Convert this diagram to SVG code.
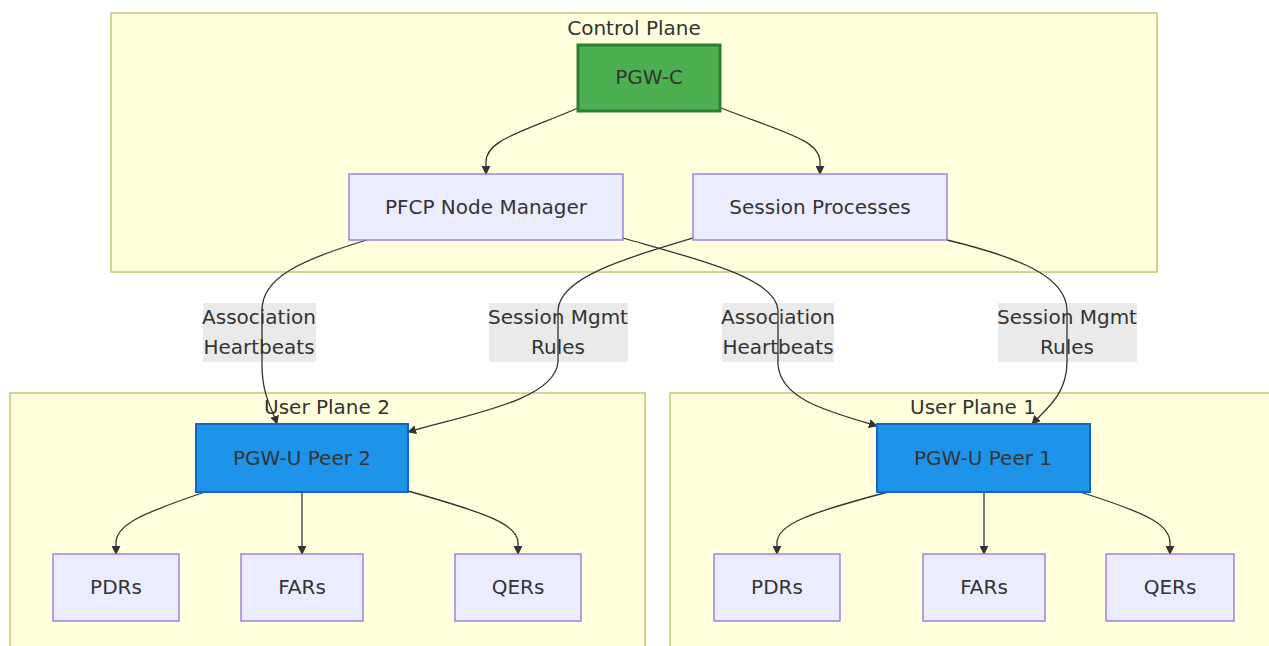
<svg xmlns="http://www.w3.org/2000/svg" width="1269" height="646" viewBox="0 0 1269 646">
<style>
text{font-family:"DejaVu Sans",Verdana,sans-serif;font-size:20px;fill:#333;text-anchor:middle}
.cluster{fill:#ffffde;stroke:#aaaa33;stroke-width:1}
.node{fill:#ececff;stroke:#9370db;stroke-width:1.3}
.green{fill:#4caf50;stroke:#2e7d32;stroke-width:3}
.blue{fill:#1e93ea;stroke:#1565c0;stroke-width:2}
.edge{fill:none;stroke:#333;stroke-width:1.3}
.lbl{fill:#e8e8e8;opacity:0.9}
</style>
<defs>
<marker id="arr" viewBox="0 0 10 10" refX="9" refY="5" markerWidth="9" markerHeight="9" markerUnits="userSpaceOnUse" orient="auto">
<path d="M0,0 L10,5 L0,10 z" fill="#333"/>
</marker>
</defs>
<rect width="1269" height="646" fill="#ffffff"/>
<g id="cluster-control">
<rect class="cluster" x="111" y="13" width="1046" height="259"/>
<text x="634" y="35">Control Plane</text>
</g>
<g id="cluster-up2">
<rect class="cluster" x="10" y="393" width="635" height="270"/>
<text x="327" y="414">User Plane 2</text>
</g>
<g id="cluster-up1">
<rect class="cluster" x="670" y="393" width="620" height="270"/>
<text x="973" y="414">User Plane 1</text>
</g>
<g id="edge-labels">
<rect class="lbl" x="203" y="303" width="113" height="59"/>
<rect class="lbl" x="489" y="303" width="139" height="59"/>
<rect class="lbl" x="722" y="303" width="112" height="59"/>
<rect class="lbl" x="998" y="303" width="139" height="59"/>
</g>
<g id="connectors">
<path class="edge" marker-end="url(#arr)" d="M578,108 C520,133 486,140 486,162 L486,174"/>
<path class="edge" marker-end="url(#arr)" d="M721,108 C785,133 820,140 820,162 L820,174"/>
<path class="edge" marker-end="url(#arr)" d="M367,240 C300,260 262,278 262,310 L262,365 C262,395 272,408 277,424"/>
<path class="edge" marker-end="url(#arr)" d="M693,238 C620,260 560,278 558,310 L558,362 C555,400 470,414 408,432"/>
<path class="edge" marker-end="url(#arr)" d="M623,238 C700,260 776,278 778,310 L778,365 C781,400 830,412 877,426"/>
<path class="edge" marker-end="url(#arr)" d="M947,240 C1030,260 1066,280 1067,310 L1067,362 C1067,395 1045,410 1032,424"/>
<path class="edge" marker-end="url(#arr)" d="M205,492 C140,514 116,525 116,543 L116,554"/>
<path class="edge" marker-end="url(#arr)" d="M302,492 L302,554"/>
<path class="edge" marker-end="url(#arr)" d="M408,491 C490,514 518,525 518,543 L518,554"/>
<path class="edge" marker-end="url(#arr)" d="M888,492 C805,514 777,525 777,543 L777,554"/>
<path class="edge" marker-end="url(#arr)" d="M984,492 L984,554"/>
<path class="edge" marker-end="url(#arr)" d="M1080,492 C1150,514 1170,525 1170,543 L1170,554"/>
</g>
<g id="edge-label-text">
<text x="259" y="324">Association</text><text x="259" y="354">Heartbeats</text>
<text x="558" y="324">Session Mgmt</text><text x="558" y="354">Rules</text>
<text x="778" y="324">Association</text><text x="778" y="354">Heartbeats</text>
<text x="1067" y="324">Session Mgmt</text><text x="1067" y="354">Rules</text>
</g>
<g id="node-pgwc">
<rect class="green" x="578" y="45" width="142" height="66"/>
<text x="649" y="84">PGW-C</text>
</g>
<g id="node-pfcp">
<rect class="node" x="349" y="174" width="274" height="66"/>
<text x="486" y="214">PFCP Node Manager</text>
</g>
<g id="node-session">
<rect class="node" x="693" y="174" width="254" height="66"/>
<text x="820" y="214">Session Processes</text>
</g>
<g id="node-peer2">
<rect class="blue" x="196" y="424" width="212" height="68"/>
<text x="302" y="465">PGW-U Peer 2</text>
</g>
<g id="node-peer1">
<rect class="blue" x="877" y="424" width="213" height="68"/>
<text x="983" y="465">PGW-U Peer 1</text>
</g>
<g id="node-pdrs2">
<rect class="node" x="53" y="554" width="126" height="67"/>
<text x="116" y="594">PDRs</text>
</g>
<g id="node-fars2">
<rect class="node" x="241" y="554" width="122" height="67"/>
<text x="302" y="594">FARs</text>
</g>
<g id="node-qers2">
<rect class="node" x="455" y="554" width="126" height="67"/>
<text x="518" y="594">QERs</text>
</g>
<g id="node-pdrs1">
<rect class="node" x="714" y="554" width="126" height="67"/>
<text x="777" y="594">PDRs</text>
</g>
<g id="node-fars1">
<rect class="node" x="923" y="554" width="122" height="67"/>
<text x="984" y="594">FARs</text>
</g>
<g id="node-qers1">
<rect class="node" x="1106" y="554" width="128" height="67"/>
<text x="1170" y="594">QERs</text>
</g>
</svg>
